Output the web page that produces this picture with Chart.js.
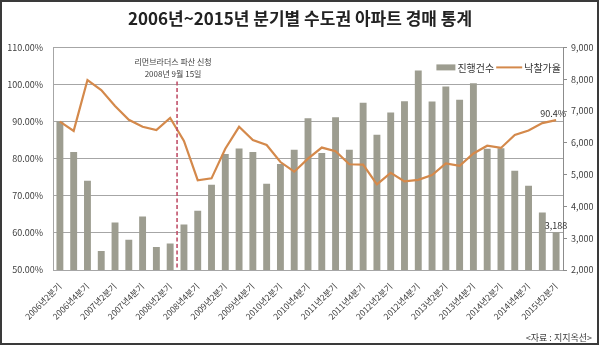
<!DOCTYPE html>
<html lang="ko">
<head>
<meta charset="utf-8">
<title>분기별 수도권 아파트 경매 통계</title>
<script src="https://cdn.jsdelivr.net/npm/chart.js@4.4.1/dist/chart.umd.min.js"></script>
<style>
  html, body { margin: 0; padding: 0; background: #fff; }
  #wrap { width: 600px; height: 348px; }
</style>
</head>
<body>
<div id="wrap"><canvas id="auctionChart" width="600" height="348"></canvas></div>
<script>
// 분기 (2006년 2분기 ~ 2015년 2분기)
const quarters = [
    '2006년2분기', '2006년3분기', '2006년4분기',
    '2007년1분기', '2007년2분기', '2007년3분기', '2007년4분기',
    '2008년1분기', '2008년2분기', '2008년3분기', '2008년4분기',
    '2009년1분기', '2009년2분기', '2009년3분기', '2009년4분기',
    '2010년1분기', '2010년2분기', '2010년3분기', '2010년4분기',
    '2011년1분기', '2011년2분기', '2011년3분기', '2011년4분기',
    '2012년1분기', '2012년2분기', '2012년3분기', '2012년4분기',
    '2013년1분기', '2013년2분기', '2013년3분기', '2013년4분기',
    '2014년1분기', '2014년2분기', '2014년3분기', '2014년4분기',
    '2015년1분기', '2015년2분기'
];

// 진행건수 (오른쪽 축)
const caseCounts = [
    6680, 5710, 4810, 2600, 3490, 2950, 3680, 2720, 2830, 3430,
    3860, 4680, 5650, 5820, 5710, 4710, 5330, 5780, 6770, 5680,
    6800, 5780, 7260, 6250, 6950, 7310, 8270, 7300, 7770, 7350,
    7870, 5810, 5830, 5120, 4650, 3810, 3188
];

// 낙찰가율 % (왼쪽 축)
const bidRates = [
    90.0, 87.5, 101.2, 98.5, 94.2, 90.5, 88.6, 87.7, 91.0, 84.8,
    74.2, 74.7, 82.7, 88.6, 85.0, 83.7, 79.1, 76.5, 80.0, 83.0,
    82.0, 78.5, 78.4, 73.1, 76.2, 73.9, 74.3, 75.6, 78.7, 78.1,
    81.4, 83.5, 82.9, 86.4, 87.6, 89.6, 90.4
];

// 눈금
const rateTicks = [50, 60, 70, 80, 90, 100, 110];
const countTicks = [2000, 3000, 4000, 5000, 6000, 7000, 8000, 9000];

// 리먼브라더스 파산 (2008년 2분기와 3분기 사이)
const lehmanAt = 8.5;
const lehmanNote = ['리먼브라더스 파산 신청', '2008년 9월 15일'];

const FONT = '"Noto Sans CJK KR", "Noto Sans", sans-serif';
const barColor = '#9d9d90';
const lineColor = '#d4894b';

// 범례, 주석, 출처 등
const extras = {
    id: 'extras',
    afterDraw(chart) {
        const c = chart.ctx;
        const area = chart.chartArea;
        const x = chart.scales.x;
        const yRate = chart.scales.y;
        const yCount = chart.scales.y1;
        c.save();

        // 리먼 점선
        const lx = x.getPixelForValue(lehmanAt);
        c.strokeStyle = '#c0506a';
        c.lineWidth = 1.6;
        c.setLineDash([4, 2.5]);
        c.beginPath();
        c.moveTo(lx, area.top + 34);
        c.lineTo(lx, area.bottom);
        c.stroke();
        c.setLineDash([]);

        c.fillStyle = '#404040';
        c.font = '8px ' + FONT;
        c.textAlign = 'center';
        c.textBaseline = 'middle';
        c.fillText(lehmanNote[0], lx - 4, area.top + 15);
        c.fillText(lehmanNote[1], lx - 4, area.top + 27);

        // 마지막 값 라벨
        const last = quarters.length - 1;
        const px = x.getPixelForValue(last);
        c.font = '9px ' + FONT;
        c.fillStyle = '#333';
        c.textBaseline = 'alphabetic';
        c.fillText(bidRates[last].toFixed(1) + '%', px - 3, yRate.getPixelForValue(bidRates[last]) - 3);
        c.fillText(caseCounts[last].toLocaleString('en-US'), px, yCount.getPixelForValue(caseCounts[last]) - 3);

        // 범례
        const ds = chart.data.datasets;
        c.font = '10px ' + FONT;
        const barLabel = ds[1].label;
        const lineLabel = ds[0].label;
        const w1 = c.measureText(barLabel).width;
        const w2 = c.measureText(lineLabel).width;
        const ly = area.top + 20;
        let cx = area.right - 2 - (19 + 2 + w1 + 2 + 26 + 2 + w2);
        c.fillStyle = barColor;
        c.fillRect(cx, ly - 3, 19, 6);
        cx += 21;
        c.fillStyle = '#333';
        c.textAlign = 'left';
        c.textBaseline = 'middle';
        c.fillText(barLabel, cx, ly + 1);
        cx += w1 + 2;
        c.strokeStyle = lineColor;
        c.lineWidth = 2;
        c.beginPath();
        c.moveTo(cx, ly);
        c.lineTo(cx + 26, ly);
        c.stroke();
        cx += 28;
        c.fillText(lineLabel, cx, ly + 1);

        // 출처
        c.font = '9px ' + FONT;
        c.fillStyle = '#404040';
        c.textAlign = 'right';
        c.textBaseline = 'alphabetic';
        c.fillText('<자료 : 지지옥션>', 592, 341);

        // 테두리
        c.strokeStyle = '#3a3a3a';
        c.lineWidth = 2;
        c.strokeRect(1, 1, 597, 343);
        c.restore();
    }
};

const ctx = document.getElementById('auctionChart').getContext('2d');

new Chart(ctx, {
    data: {
        labels: quarters,
        datasets: [
            {
                type: 'line',
                label: '낙찰가율',
                data: bidRates,
                yAxisID: 'y',
                borderColor: lineColor,
                borderWidth: 2.2,
                pointRadius: 0,
                tension: 0,
                order: 1
            },
            {
                type: 'bar',
                label: '진행건수',
                data: caseCounts,
                yAxisID: 'y1',
                backgroundColor: barColor,
                categoryPercentage: 1.0,
                barPercentage: 0.5,
                order: 2
            }
        ]
    },
    options: {
        responsive: false,
        animation: false,
        layout: { padding: 0 },
        plugins: {
            legend: { display: false },
            tooltip: { enabled: false },
            title: {
                display: true,
                text: '2006년~2015년 분기별 수도권 아파트 경매 통계',
                color: '#222',
                font: { family: FONT, size: 17, weight: 'bold' },
                padding: { top: 8, bottom: 19 }
            }
        },
        scales: {
            x: {
                grid: { display: false },
                border: { color: '#a6a6a6' },
                ticks: {
                    autoSkip: false,
                    maxRotation: 45,
                    minRotation: 45,
                    padding: 3,
                    color: '#404040',
                    font: { family: FONT, size: 8.5 },
                    callback: function(value, index) {
                        return index % 2 === 0 ? quarters[index] : '';
                    }
                },
                afterFit: function(scale) { scale.height = 78; }
            },
            y: {
                position: 'left',
                min: 50,
                max: 110,
                grid: { color: '#a6a6a6', drawTicks: false },
                border: { color: '#a6a6a6' },
                ticks: {
                    padding: 10,
                    color: '#404040',
                    font: { family: FONT, size: 9 },
                    callback: function(value) { return value.toFixed(2) + '%'; }
                },
                afterBuildTicks: function(scale) {
                    scale.ticks = rateTicks.map(v => ({ value: v }));
                },
                afterFit: function(scale) { scale.width = 53; }
            },
            y1: {
                position: 'right',
                min: 2000,
                max: 9000,
                grid: { drawOnChartArea: false, drawTicks: true, tickLength: 4, color: '#8c8c8c' },
                border: { color: '#8c8c8c' },
                ticks: {
                    padding: 4,
                    color: '#404040',
                    font: { family: FONT, size: 9 },
                    callback: function(value) { return value.toLocaleString('en-US'); }
                },
                afterBuildTicks: function(scale) {
                    scale.ticks = countTicks.map(v => ({ value: v }));
                },
                afterFit: function(scale) { scale.width = 37; }
            }
        }
    },
    plugins: [extras]
});
</script>
</body>
</html>
